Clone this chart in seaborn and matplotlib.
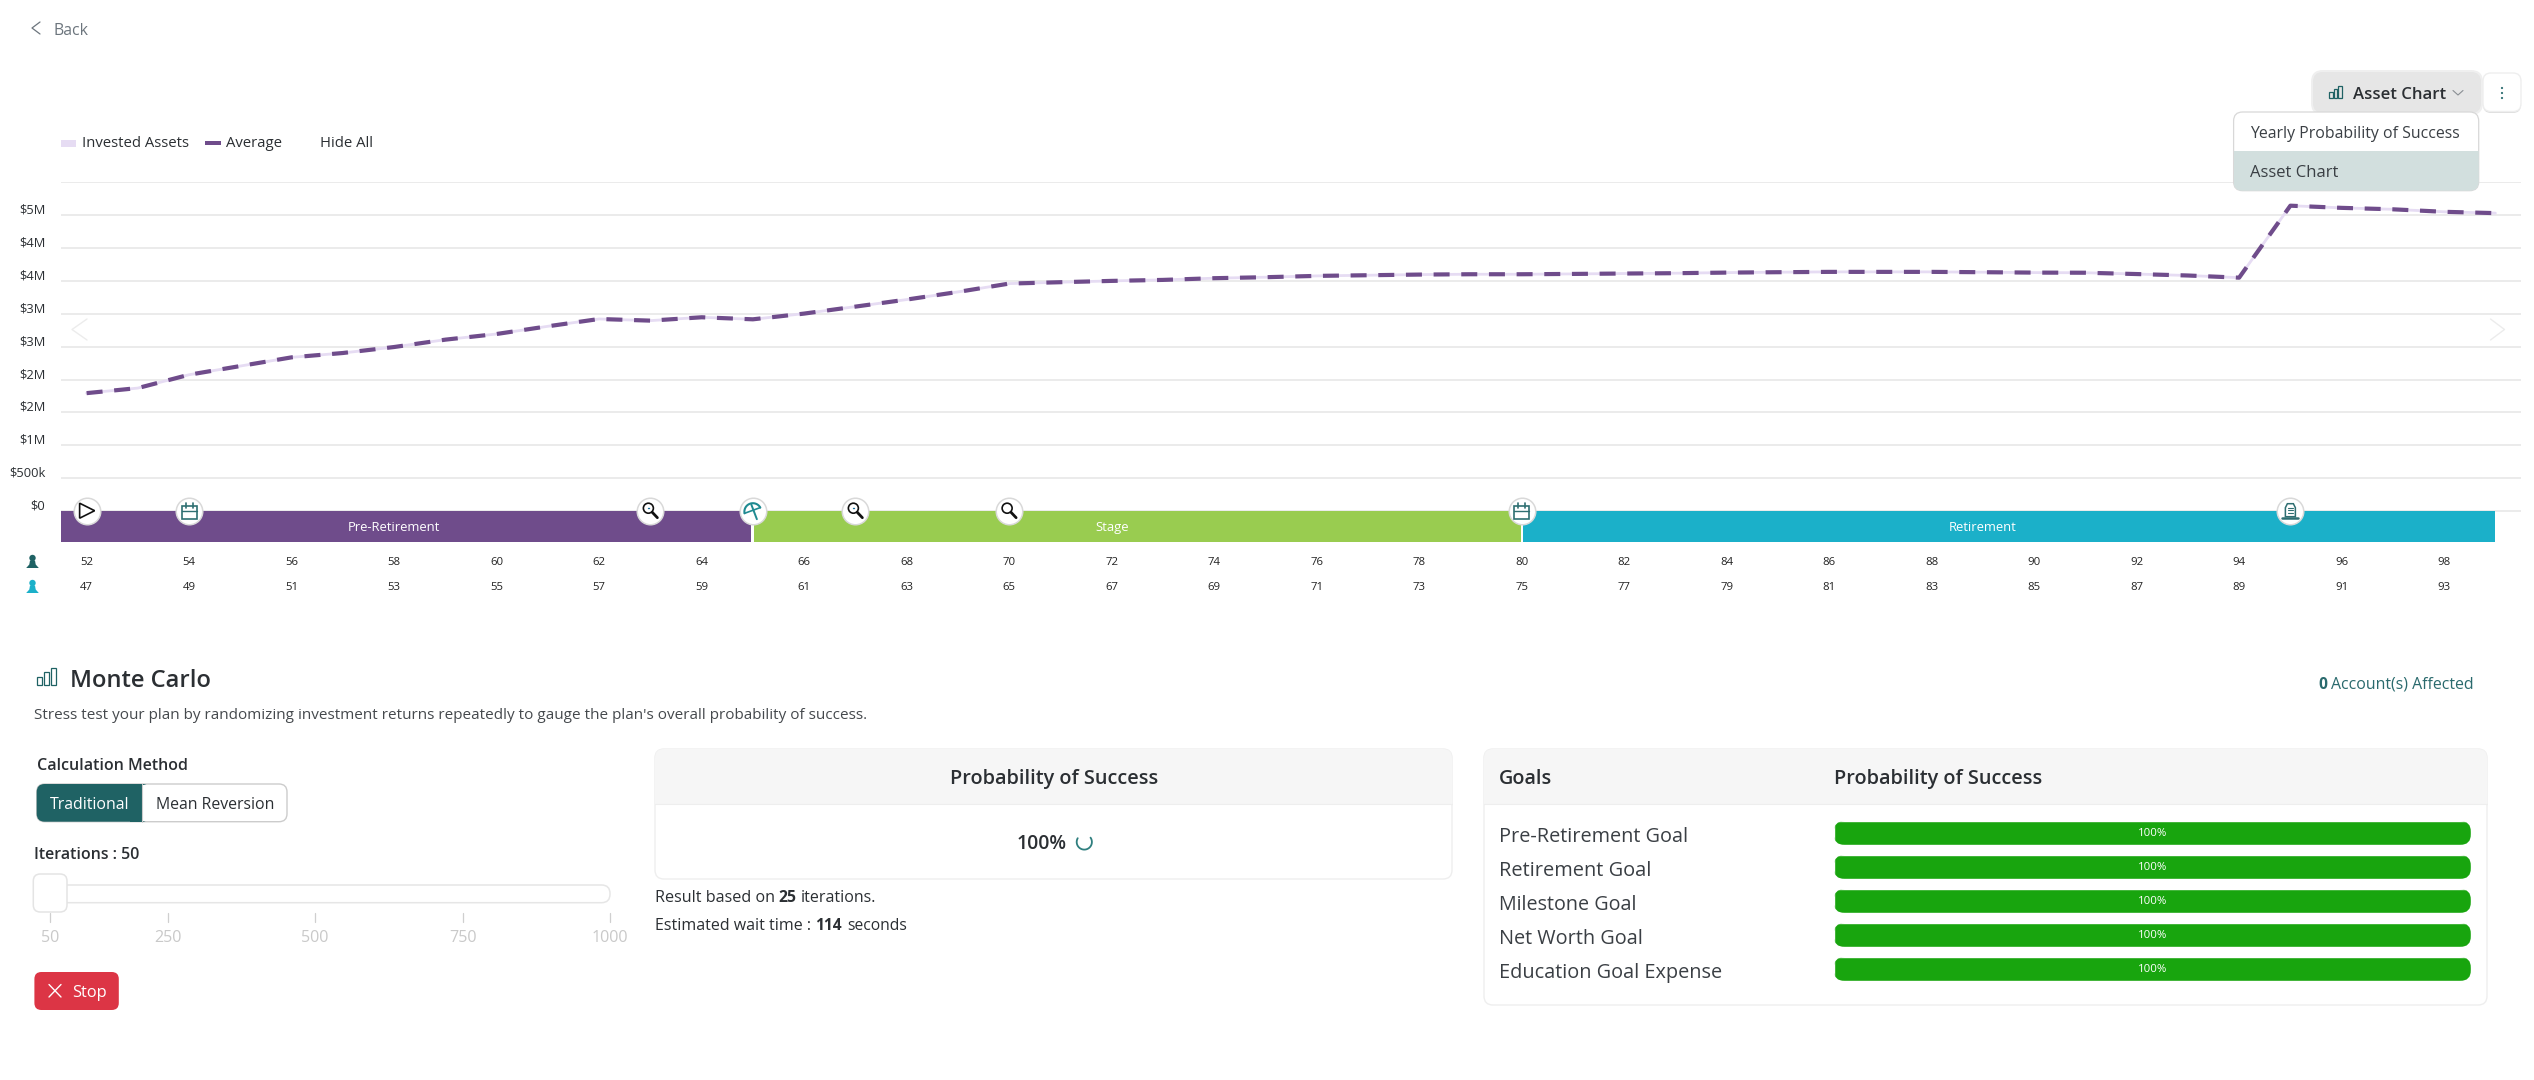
import numpy as np
import pandas as pd
import matplotlib
matplotlib.use("Agg")
import matplotlib.pyplot as plt
import seaborn as sns
from matplotlib.patches import FancyBboxPatch, Rectangle, Circle, Polygon
from matplotlib.transforms import Affine2D

# ---------- data ----------
ages_primary = list(range(52, 100))
average_millions = [1.794, 1.871, 2.074, 2.206, 2.338, 2.404, 2.495, 2.607, 2.693, 2.810,
                    2.921, 2.896, 2.947, 2.916, 3.003, 3.109, 3.216, 3.332, 3.459, 3.480,
                    3.500, 3.515, 3.541, 3.556, 3.576, 3.586, 3.596, 3.601, 3.601, 3.606,
                    3.612, 3.617, 3.626, 3.632, 3.637, 3.637, 3.637, 3.632, 3.626, 3.624,
                    3.604, 3.582, 3.549, 4.643, 4.610, 4.588, 4.550, 4.530]
invested_millions = list(average_millions)
y_tick_values = [0, 0.5, 1, 1.5, 2, 2.5, 3, 3.5, 4, 4.5, 5]
y_tick_labels = ["$0", "$500k", "$1M", "$2M", "$2M", "$3M", "$3M", "$4M", "$4M", "$5M", ""]
primary_tick_ages = list(range(52, 99, 2))
spouse_tick_ages = list(range(47, 94, 2))
stage_names = ["Pre-Retirement", "Stage", "Retirement"]
stage_starts = [51.5, 65.03, 80.02]
stage_ends = [64.97, 79.98, 99.0]
stage_label_ages = [58, 72, 89]
event_ages = [52, 54, 63, 65, 67, 70, 80, 95]
event_kinds = ["play", "cal", "mag", "umb", "mag", "mag", "cal", "tomb"]
goal_names = ["Pre-Retirement Goal", "Retirement Goal", "Milestone Goal", "Net Worth Goal", "Education Goal Expense"]
goal_probability = [100, 100, 100, 100, 100]
slider_labels = ["50", "250", "500", "750", "1000"]

PURPLE = "#6f4c8b"; LAV = "#e6dcf3"; GREEN = "#99cc50"; CYAN = "#1bb0c9"; TEAL = "#1f6264"
DARK = "#2b2f33"; GRID = "#e6e6e6"; BAR = "#18a50e"

W, H = 2534, 1080
sns.set_theme(style="white")
plt.rcParams["font.family"] = ["Open Sans", "DejaVu Sans"]
fig = plt.figure(figsize=(W / 100, H / 100), dpi=100, facecolor="white")

def box(l, t, r, b):
    return [l / W, 1 - b / H, (r - l) / W, (b - t) / H]

# ---------- chart ----------
ax = fig.add_axes(box(61, 182.2, 2521, 542), zorder=1)
df = pd.DataFrame({"age": ages_primary, "avg": average_millions, "inv": invested_millions})
sns.lineplot(data=df, x="age", y="inv", ax=ax, color=LAV, linewidth=2.0, zorder=3, errorbar=None)
sns.lineplot(data=df, x="age", y="avg", ax=ax, color=PURPLE, linewidth=3.0, zorder=4, errorbar=None,
             linestyle=(0, (3.84, 2.8)), dash_capstyle="butt")
ax.set_xlim(51.5, 99.5)
ax.set_ylim(-0.4685, 5.0)
ax.set_yticks(y_tick_values)
ax.set_yticklabels(y_tick_labels)
ax.yaxis.grid(True, color=GRID, linewidth=1.1)
ax.set_axisbelow(True)
ax.xaxis.grid(False)
ax.tick_params(axis="y", length=0, pad=11.2, labelsize=9.3, labelcolor=DARK)
for t in ax.get_yticklabels():
    t.set_verticalalignment("bottom")
    t.set_transform(t.get_transform() + Affine2D().translate(0, -1.5))
ax.set_xticks(primary_tick_ages)
ax.set_xticklabels([str(a) for a in primary_tick_ages])
ax.tick_params(axis="x", length=0, pad=11.0, labelsize=8.2, labelcolor="#222222")
ax.set_xlabel(""); ax.set_ylabel("")
for s in ax.spines.values():
    s.set_visible(False)
sec = ax.secondary_xaxis("bottom", functions=(lambda x: x - 5, lambda x: x + 5))
sec.set_xticks(spouse_tick_ages)
sec.set_xticklabels([str(a) for a in spouse_tick_ages])
sec.tick_params(axis="x", length=0, pad=28.5, labelsize=8.2, labelcolor="#222222")
for s in sec.spines.values():
    s.set_visible(False)

stage_colors = [PURPLE, GREEN, CYAN]
ax.bar(stage_starts, [-0.4685] * 3, width=[e - s for s, e in zip(stage_starts, stage_ends)],
       align="edge", color=stage_colors, linewidth=0, zorder=2)
for name, a in zip(stage_names, stage_label_ages):
    ax.text(a, -0.2495, name, color="white", ha="center", va="center", fontsize=9.4, zorder=3)
sns.scatterplot(x=event_ages, y=[0.008] * len(event_ages), ax=ax, s=365, color="white",
                edgecolor="#d9d9d9", linewidth=1.1, zorder=6, clip_on=False, legend=False)

# ---------- interface layer in pixels ----------
ui = fig.add_axes([0, 0, 1, 1], zorder=2)
ui.set_xlim(0, W); ui.set_ylim(H, 0); ui.axis("off"); ui.patch.set_alpha(0)
rend = fig.canvas.get_renderer()

def T(x, yc, s, width=None, fs=10.0, color=DARK, ha="left", weight="normal", z=10):
    t = ui.text(x, yc, s, ha=ha, va="baseline", fontsize=fs, color=color, fontweight=weight, zorder=z)
    if width:
        for _ in range(3):
            w = t.get_window_extent(rend).width
            fs = fs * width / w
            t.set_fontsize(fs)
    t.set_y(yc + 0.36 * fs * 100 / 72)
    return t

def RR(l, t, r, b, rad, fc="white", ec="none", lw=1.0, z=3):
    p = FancyBboxPatch((l + rad, t + rad), r - l - 2 * rad, b - t - 2 * rad,
                       boxstyle=f"round,pad={rad},rounding_size={rad}", fc=fc, ec=ec, lw=lw, zorder=z)
    ui.add_patch(p)
    return p

def L(xs, ys, c=DARK, lw=1.0, z=8):
    ui.plot(xs, ys, color=c, lw=lw, zorder=z, solid_capstyle="round", solid_joinstyle="round")

def bars_icon(l, t, r, b, c=TEAL):
    w = (r - l) / 3.6
    hs = [0.5, 0.75, 1.0]
    for i, h in enumerate(hs):
        x = l + i * 1.3 * w
        ui.add_patch(Rectangle((x, b - (b - t) * h), w, (b - t) * h, fc="none", ec=c, lw=0.9, zorder=8))

def person(cx, cy, c):
    ui.add_patch(Circle((cx, cy - 3.5), 3.2, fc=c, ec="none", zorder=8))
    ui.add_patch(Polygon([(cx - 2.5, cy - 1), (cx + 2.5, cy - 1), (cx + 3.2, cy + 3), (cx + 6.3, cy + 6.5),
                          (cx - 6.3, cy + 6.5), (cx - 3.2, cy + 3)], closed=True, fc=c, ec="none", zorder=8))

def px_age(a):
    return 61 + (a - 51.5) * (2521 - 61) / 48.0

# event icons
cy0 = 510.7
for a, k in zip(event_ages, event_kinds):
    cx = px_age(a)
    if k == "play":
        ui.add_patch(Polygon([(cx - 7, cy0 - 7.5), (cx + 8, cy0), (cx - 7, cy0 + 7.5)], closed=True, fc="white",
                             ec="#111111", lw=1.2, zorder=8))
    elif k == "cal":
        ui.add_patch(Rectangle((cx - 7.5, cy0 - 5), 15, 13, fc="none", ec="#2f6f72", lw=1.2, zorder=8))
        L([cx - 7.5, cx + 7.5], [cy0 + 0.5, cy0 + 0.5], "#2f6f72", 1.0)
        for dx in (-3.5, 3.5):
            L([cx + dx, cx + dx], [cy0 - 7.5, cy0 - 2.5], "#2f6f72", 1.2)
    elif k == "mag":
        ui.add_patch(Circle((cx - 2, cy0 - 2.5), 5, fc="white", ec="#111111", lw=1.2, zorder=8))
        L([cx + 1.8, cx + 7], [cy0 + 1.5, cy0 + 7], "#111111", 2.0)
        for dx in (-3.5, -2, -0.5):
            L([cx + dx, cx + dx + 0.3], [cy0 - 2.5, cy0 - 2.5], "#1a6f9a", 1.0)
    elif k == "umb":
        th = np.linspace(np.pi * 1.05, np.pi * 1.95, 20)
        xs = cx + 8.5 * np.cos(th - 0.35); ys = cy0 + 1 + 8.5 * np.sin(th - 0.35)
        L(xs, ys, "#1f8a91", 1.5)
        L([xs[0], xs[-1]], [ys[0], ys[-1]], "#1f8a91", 1.2)
        L([cx - 1.5, cx + 4], [cy0 - 6, cy0 + 8.5], "#1f8a91", 1.4)
    elif k == "tomb":
        ui.add_patch(Polygon([(cx - 5, cy0 + 6), (cx - 5, cy0 - 3), (cx - 3, cy0 - 7), (cx + 3, cy0 - 7), (cx + 5, cy0 - 3), (cx + 5, cy0 + 6)],
                             closed=True, fc="white", ec="#2f6f72", lw=1.1, zorder=8))
        L([cx - 8, cx + 8], [cy0 + 7, cy0 + 7], "#2f6f72", 1.8)
        for dy in (-3, -0.5, 2):
            L([cx - 2.5, cx + 2.5], [cy0 + dy, cy0 + dy], "#2f6f72", 0.8)

person(32.5, 561.5, TEAL)
person(32.5, 586.5, CYAN)

# header
L([40, 32, 40], [22, 28, 34], "#6c757d", 0.9)
T(53.5, 29, "Back", width=35, color="#6c757d")
T(82.4, 141.7, "Invested Assets", width=107.5)
T(226, 141.7, "Average", width=56)
T(320, 141.7, "Hide All", width=53)
ui.add_patch(Rectangle((61, 140), 15, 7, fc=LAV, ec="none", zorder=8))
ui.add_patch(Rectangle((205, 141), 16, 3.8, fc=PURPLE, ec="none", zorder=8))
L([87, 72, 87], [319, 329.5, 340], "#ececec", 1.0)
L([2490.5, 2504.5, 2490.5], [319, 329.5, 340], "#ececec", 1.0)

# dropdown
RR(2311, 70, 2483, 115, 12, fc="#efefef")
RR(2313, 72, 2481, 113, 10, fc="#e6e6e6", z=4)
bars_icon(2329, 86, 2342, 98)
T(2353, 93, "Asset Chart", width=93, weight="semibold")
L([2453, 2458, 2463], [90.5, 95, 90.5], "#8a8f94", 0.8)
RR(2483, 74, 2521, 113, 8, fc="#dddddd", z=3)
RR(2483, 73, 2521, 111.5, 8, fc="white", ec="#eeeeee", z=4)
for yy in (88, 93, 98):
    ui.add_patch(Circle((2502, yy), 1.1, fc="#2f6f72", ec="none", zorder=8))
RR(2233.6, 112, 2478.7, 190.7, 9, fc="white", ec="#d8d8d8", lw=0.9, z=5)
clip = RR(2233.6, 112, 2478.7, 190.7, 9, fc="none", ec="none", z=5)
r_sel = Rectangle((2233.6, 151), 245.1, 39.7, fc="#d2dfde", ec="none", zorder=6)
ui.add_patch(r_sel); r_sel.set_clip_path(clip)
T(2250.4, 132, "Yearly Probability of Success", width=211, color="#3a3f44")
T(2250.4, 171, "Asset Chart", width=88, color="#3a3f44")

# Monte Carlo section
bars_icon(37, 668, 56, 685)
T(70, 678, "Monte Carlo", width=141, color="#2b2f33", weight="semibold")
T(34.4, 713, "Stress test your plan by randomizing investment returns repeatedly to gauge the plan's overall probability of success.",
  width=836, color="#45494d")
T(37.3, 764, "Calculation Method", width=150.5, weight="semibold")
RR(36.7, 784, 287, 821.7, 8, fc="white", ec="#cccccc", lw=1.0)
RR(36.7, 784, 150, 821.7, 8, fc=TEAL, z=4)
ui.add_patch(Rectangle((130, 784), 11.8, 37.7, fc=TEAL, ec="none", zorder=4))
ui.add_patch(Rectangle((141.8, 784.5), 9.2, 36.7, fc="white", ec="none", zorder=4))
L([141.8, 141.8], [784, 821.7], "#cccccc", 0.8, z=5)
T(50, 803, "Traditional", width=80, color="white")
T(156, 803, "Mean Reversion", width=118.4)
T(34.4, 853, "Iterations : 50", width=105.6, weight="semibold")
RR(50, 885, 610, 902.7, 8.5, fc="white", ec="#e6e6e6", lw=1.1)
RR(33.3, 874, 67, 912, 7, fc="white", ec="#e4e4e4", lw=1.1, z=6)
for x, lab in zip([50, 167.6, 314.6, 462.7, 609.6], slider_labels):
    L([x, x], [913, 922], "#cfcfcf", 0.9, z=2)
    T(x, 936, lab, fs=11.6, color="#c9c9c9", ha="center")
RR(34.4, 972, 118.8, 1010, 7, fc="#dc3545")
L([49, 61], [984.5, 997], "white", 1.0); L([49, 61], [997, 984.5], "white", 1.0)
T(72, 991, "Stop", width=34.5, color="white")

# probability card
RR(655, 749, 1452, 879, 9, fc="white", ec="#eeeeee", lw=1.0)
hdr = Rectangle((655, 749), 797, 55, fc="#f6f6f6", ec="none", zorder=4)
ui.add_patch(hdr); hdr.set_clip_path(ui.patches[-2])
L([655, 1452], [804, 804], "#eeeeee", 0.8, z=5)
T(950, 777, "Probability of Success", width=208, weight="semibold")
T(1017, 842, "100%", width=50, weight="semibold")
th = np.linspace(np.radians(150), np.radians(395), 40)
L(1084.3 + 7.6 * np.cos(th), 842 - 7.6 * np.sin(th), "#2f7f7f", 1.3)
T(655, 896, "Result based on", width=119)
T(778, 896, "25", width=18, weight="bold")
T(801, 896, "iterations.", width=75)
T(655, 924, "Estimated wait time :", width=156)
T(815.5, 924, "114", width=26.5, weight="bold")
T(847, 924, "seconds", width=60)

# goals card
RR(1484, 749, 2487, 1005, 9, fc="white", ec="#eeeeee", lw=1.0)
hdr2 = Rectangle((1484, 749), 1003, 55, fc="#f6f6f6", ec="none", zorder=4)
ui.add_patch(hdr2); hdr2.set_clip_path(ui.patches[-2])
L([1484, 2487], [804, 804], "#eeeeee", 0.8, z=5)
T(1499, 777, "Goals", width=53, weight="semibold")
T(1833.7, 777, "Probability of Success", width=208.8, weight="semibold")
goal_widths = [189.5, 152, 138, 144, 223]
goal_y = [835, 869, 903, 937, 971]
for name, wd, yy in zip(goal_names, goal_widths, goal_y):
    T(1499, yy, name, width=wd, color="#3a3f44")
T(2318.3, 683, "0", width=9, color="#2a6a6d", weight="bold")
T(2331.4, 683, "Account(s) Affected", width=143, color="#2a6a6d")

# goal progress bars
gx = fig.add_axes(box(1833.7, 816, 2471, 986), zorder=3)
gdf = pd.DataFrame({"goal": goal_names, "p": goal_probability})
sns.barplot(data=gdf, y="goal", x="p", ax=gx, color=BAR, saturation=1, width=24 / 34, errorbar=None)
gx.set_xlim(0, 100); gx.set_ylim(4.5, -0.5)
gx.axis("off"); gx.patch.set_alpha(0)
for i, b in enumerate(gx.patches):
    top = 816 + 34 * i + 5
    c = FancyBboxPatch((1833.7 + 11, top + 11), 637.3 - 22, 24 - 22, boxstyle="round,pad=11,rounding_size=11",
                       transform=ui.transData, fc="none", ec="none")
    b.set_clip_path(c)
for cont in gx.containers:
    gx.bar_label(cont, labels=[f"{v}%" for v in goal_probability], label_type="center", color="white",
                 fontsize=8.2, fontweight="medium")

fig.savefig("out.png", dpi=100, facecolor="white")
